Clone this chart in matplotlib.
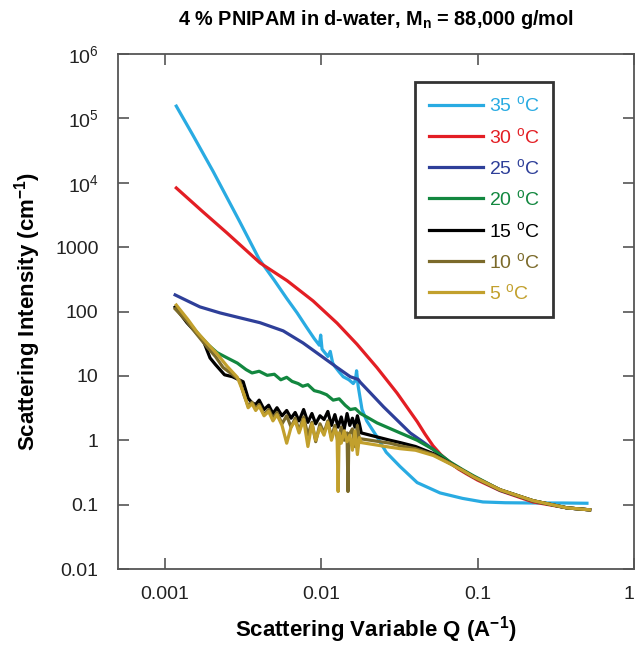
import matplotlib
matplotlib.use('Agg')
import matplotlib.pyplot as plt
from matplotlib.ticker import FixedLocator, FixedFormatter, NullLocator

plt.rcParams['font.family'] = ['Liberation Sans', 'DejaVu Sans']
plt.rcParams['mathtext.fontset'] = 'custom'
plt.rcParams['mathtext.rm'] = 'Liberation Sans'
plt.rcParams['mathtext.it'] = 'Liberation Sans:italic'
plt.rcParams['mathtext.bf'] = 'Liberation Sans:bold'

# 35 C
q35 = [0.00118, 0.0015, 0.00203, 0.003, 0.004, 0.005, 0.006, 0.007, 0.008, 0.009, 0.0097,
       0.0099, 0.0101, 0.011, 0.0114, 0.0118, 0.0122, 0.013, 0.0138, 0.015, 0.016, 0.0165,
       0.0168, 0.0172, 0.0182, 0.0195, 0.0227, 0.026, 0.0319, 0.041, 0.0574, 0.08, 0.108,
       0.15, 0.226, 0.35, 0.5]
i35 = [1.55e5, 5.6e4, 1.5e4, 2500, 650, 305, 160, 95, 58, 38, 30,
       43, 26, 20, 24, 16, 14, 11.5, 9.7, 8.7, 7.6, 8.5,
       12, 6.9, 3.0, 2.0, 1.13, 0.65, 0.39, 0.22, 0.152, 0.125, 0.110,
       0.107, 0.106, 0.106, 0.105]

# 30 C
q30 = [0.00118, 0.00175, 0.00249, 0.00405, 0.00604, 0.00885, 0.0126, 0.0169, 0.0227,
       0.0305, 0.041, 0.046, 0.0518, 0.058, 0.0665, 0.075, 0.085, 0.1, 0.139, 0.226,
       0.373, 0.52]
i30 = [8300, 3520, 1660, 569, 301, 146, 66, 31, 13.4,
       5.4, 1.95, 1.25, 0.82, 0.6, 0.45, 0.36, 0.3, 0.24, 0.165, 0.11,
       0.089, 0.083]

# 25 C
q25 = [0.00116, 0.0014, 0.00167, 0.00225, 0.003, 0.00405, 0.0057, 0.00763, 0.0098, 0.0125,
       0.0153, 0.0172, 0.0177, 0.0205, 0.025, 0.037, 0.045, 0.052, 0.0665, 0.08, 0.094,
       0.139, 0.226, 0.373, 0.52]
i25 = [181, 145, 118, 95, 80, 67, 50, 32.5, 21, 13.7,
       9.7, 8.8, 8.0, 5.5, 3.3, 1.3, 0.93, 0.72, 0.45, 0.34, 0.27,
       0.167, 0.114, 0.089, 0.083]

# 20 C
q20 = [0.00118, 0.0014, 0.00167, 0.0019, 0.00215, 0.0025, 0.0029, 0.0033, 0.0036, 0.004,
       0.0045, 0.005, 0.0055, 0.006, 0.0065, 0.0071, 0.0076, 0.0082, 0.009, 0.0098, 0.0108,
       0.0119, 0.013, 0.0142, 0.0153, 0.0165, 0.0178, 0.0195, 0.0227, 0.0319, 0.041, 0.052,
       0.0665, 0.08, 0.094, 0.139, 0.226, 0.373, 0.52]
i20 = [112, 70, 42, 30, 23, 19, 15.8, 12.5, 11.1, 11.8,
       10.2, 10.6, 8.7, 9.5, 8.2, 7.6, 6.9, 7.3, 5.9, 5.6, 5.1,
       4.2, 4.4, 3.5, 3.0, 3.1, 2.6, 2.3, 1.86, 1.3, 1.0, 0.72,
       0.46, 0.35, 0.28, 0.17, 0.115, 0.089, 0.083]

# 15 C
q15 = [0.00116, 0.00138, 0.00175, 0.00194, 0.0021, 0.0024, 0.0027, 0.00316, 0.0034, 0.0036,
       0.0038, 0.004, 0.0043, 0.0046, 0.0049, 0.0052, 0.0056, 0.006, 0.0064, 0.0068, 0.0072,
       0.0077, 0.0082, 0.0087, 0.0092, 0.0098, 0.0104, 0.011, 0.0116, 0.0122, 0.0128, 0.0134,
       0.014, 0.0146, 0.0152, 0.0158, 0.0164, 0.017, 0.0175, 0.018, 0.0275, 0.0319, 0.04,
       0.052, 0.0665, 0.08, 0.094, 0.139, 0.226, 0.373, 0.52]
i15 = [117, 67, 36, 19, 15, 10.4, 9.7, 8.1, 4.5, 3.8,
       3.6, 4.2, 3.0, 3.5, 2.6, 3.2, 2.4, 2.9, 2.2, 2.7, 2.0,
       3.0, 1.9, 2.6, 1.8, 2.4, 2.1, 2.8, 1.7, 2.5, 1.6, 2.3,
       1.5, 2.6, 1.7, 2.2, 1.6, 2.4, 1.8, 1.3, 1.0, 0.92, 0.8,
       0.62, 0.44, 0.34, 0.27, 0.17, 0.115, 0.089, 0.083]

# 10 C
q10 = [0.00116, 0.00138, 0.0016, 0.00186, 0.0021, 0.00235, 0.0027, 0.003, 0.0032, 0.0034,
       0.0036, 0.0038, 0.004, 0.0043, 0.0046, 0.0049, 0.0052, 0.0056, 0.006, 0.0064, 0.0068,
       0.0072, 0.0077, 0.0082, 0.0087, 0.0092, 0.0098, 0.0104, 0.011, 0.0116, 0.0122, 0.0128,
       0.0134, 0.014, 0.0146, 0.0148, 0.015, 0.0158, 0.0164, 0.017, 0.0175, 0.018, 0.0275,
       0.0319, 0.04, 0.052, 0.0665, 0.08, 0.094, 0.139, 0.226, 0.373, 0.52]
i10 = [110, 70, 44, 28, 20, 13.5, 10.5, 8.5, 5.0, 3.4,
       3.9, 3.1, 3.6, 2.5, 3.0, 2.2, 2.7, 1.8, 2.4, 1.6, 2.2,
       1.4, 2.3, 1.2, 1.9, 0.95, 1.8, 1.3, 2.0, 1.1, 1.7, 0.9,
       1.6, 1.0, 1.3, 0.16, 1.2, 1.5, 0.8, 1.7, 1.0, 1.05, 0.9,
       0.82, 0.74, 0.6, 0.44, 0.34, 0.27, 0.17, 0.115, 0.089, 0.083]

# 5 C
q5 = [0.00118, 0.0014, 0.0016, 0.00186, 0.00215, 0.0025, 0.0029, 0.0032, 0.0034,
      0.0036, 0.0038, 0.004, 0.0043, 0.0046, 0.0049, 0.0052, 0.0056, 0.006, 0.0064, 0.0068,
      0.0072, 0.0077, 0.0082, 0.0087, 0.0092, 0.0098, 0.0104, 0.011, 0.0116, 0.0122, 0.0126,
      0.0128, 0.013, 0.0134, 0.014, 0.0146, 0.0152, 0.0158, 0.0164, 0.017, 0.0175, 0.018,
      0.0275, 0.0319, 0.04, 0.052, 0.0665, 0.08, 0.094, 0.139, 0.226, 0.373, 0.52]
i5 = [126, 75, 48, 32, 22, 14, 9.5, 5.2, 3.2,
      3.7, 2.9, 3.4, 2.4, 2.8, 2.0, 2.5, 1.7, 0.9, 1.6, 2.0,
      1.3, 2.1, 0.8, 1.8, 1.0, 1.6, 1.2, 1.9, 1.0, 1.5, 1.2,
      0.16, 1.3, 0.9, 1.4, 0.95, 1.2, 0.7, 1.4, 0.6, 1.1, 0.92,
      0.78, 0.74, 0.7, 0.58, 0.43, 0.34, 0.27, 0.17, 0.115, 0.089, 0.083]

series = [
    ('35 $^{\\mathrm{o}}$C', q35, i35, '#29abe2'),
    ('30 $^{\\mathrm{o}}$C', q30, i30, '#e31e24'),
    ('25 $^{\\mathrm{o}}$C', q25, i25, '#2e3f99'),
    ('20 $^{\\mathrm{o}}$C', q20, i20, '#12873f'),
    ('15 $^{\\mathrm{o}}$C', q15, i15, '#000000'),
    ('10 $^{\\mathrm{o}}$C', q10, i10, '#7b6a2a'),
    ('5 $^{\\mathrm{o}}$C', q5, i5, '#c2a02d'),
]

x_ticks = [0.001, 0.01, 0.1, 1]
x_labels = ['0.001', '0.01', '0.1', '1']
y_ticks = [0.01, 0.1, 1, 10, 100, 1000, 1e4, 1e5, 1e6]
y_labels = ['0.01', '0.1', '1', '10', '100', '1000', '10$^4$', '10$^5$', '10$^6$']

fig = plt.figure(figsize=(6.37, 6.47), dpi=100)
ax = fig.add_axes([118 / 637, 1 - 569 / 647, 516 / 637, 515 / 647])

for label, q, inten, color in series:
    ax.plot(q, inten, color=color, lw=2.3, label=label)

ax.set_xscale('log')
ax.set_yscale('log')
ax.set_xlim(0.0005, 1)
ax.set_ylim(0.01, 1e6)

ax.xaxis.set_major_locator(FixedLocator(x_ticks))
ax.xaxis.set_major_formatter(FixedFormatter(x_labels))
ax.xaxis.set_minor_locator(NullLocator())
ax.yaxis.set_major_locator(FixedLocator(y_ticks))
ax.yaxis.set_major_formatter(FixedFormatter(y_labels))
ax.yaxis.set_minor_locator(NullLocator())
ax.tick_params(direction='in', length=8, width=1.2, color='#555555',
               top=True, right=True, labelsize=14, colors='#222222')
ax.tick_params(axis='y', pad=14)
ax.tick_params(axis='x', pad=12)
for sp in ax.spines.values():
    sp.set_color('#555555')
    sp.set_linewidth(1.3)

# keep the last x label inside the canvas
fig.canvas.draw()
ax.get_xticklabels()[-1].set_horizontalalignment('right')

ax.set_title('4 % PNIPAM in d-water, M$_\\mathbf{n}$ = 88,000 g/mol',
             fontsize=14.3, fontweight='bold', pad=21)
ax.set_xlabel('Scattering Variable Q (A$^{\\mathbf{-1}}$)', fontsize=16,
              fontweight='bold', labelpad=8)
ax.set_ylabel('Scattering Intensity (cm$^{\\mathbf{-1}}$)', fontsize=16,
              fontweight='bold', labelpad=9)

leg = ax.legend(loc='upper left', bbox_to_anchor=(0.576, 0.946), fontsize=14,
                frameon=True, fancybox=False, edgecolor='black', handlelength=2.8,
                handletextpad=0.3, labelspacing=0.58, borderpad=0.7,
                borderaxespad=0)
leg.get_frame().set_linewidth(2)
for txt, (_, _, _, color) in zip(leg.get_texts(), series):
    txt.set_color(color)

fig.savefig('out.png', dpi=100)
